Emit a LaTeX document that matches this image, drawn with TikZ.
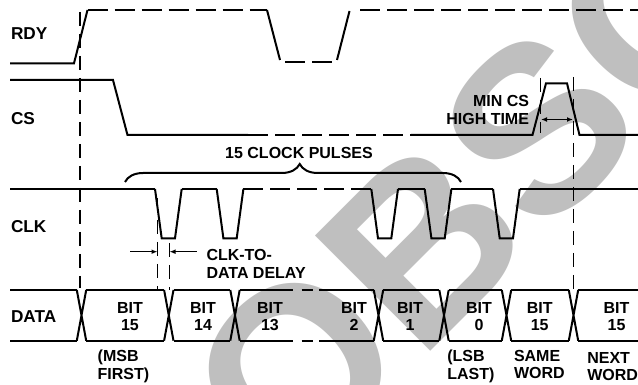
\documentclass[tikz,border=0pt]{standalone}
\usepackage{fontspec}
\setmainfont{Liberation Sans}
\usetikzlibrary{arrows.meta,decorations.pathreplacing}

\begin{document}
\begin{tikzpicture}[x=0.5pt, y=-0.5pt, line width=1pt,
    signame/.style={font=\fontsize{8.6}{10}\selectfont\bfseries, anchor=west, inner sep=0pt},
    lbl/.style={font=\fontsize{8}{8.7}\selectfont\bfseries, align=center, inner sep=0pt},
    dsh/.style={dash pattern=on 10pt off 3.5pt},
    vdsh/.style={line width=0.85pt, dash pattern=on 7pt off 4pt},
    tip/.style={-{Latex[length=3pt,width=2.4pt]}, line width=0.7pt},
    twotip/.style={{Latex[length=3pt,width=2.4pt]}-{Latex[length=3pt,width=2.4pt]}, line width=0.7pt}]
  \useasboundingbox (0,0) rectangle (638,385);
  % watermark
  \begin{scope}
    \clip (0,0) rectangle (638,385);
    \node[rotate=45, anchor=base west, inner sep=0pt, text=gray!50,
      font=\fontsize{118.5}{118.5}\selectfont\bfseries] (obs) at (288,493.5) {OBSOLETE};
  \end{scope}

  % signal names
  \node[signame] (rdy) at (10,34) {RDY};
  \node[signame] (cs) at (10,119) {CS};
  \node[signame] (clk) at (10,226.7) {CLK};
  \node[signame] (data) at (10,316.5) {DATA};

  % RDY
  \draw (10,63.3) -- (74,63.3) -- (87.5,10);
  \draw[dsh] (87.5,10) -- (267,10);
  \draw (267,10) -- (280,60);
  \draw[dsh] (285,62.5) -- (332,62.5);
  \draw (337,60) -- (349.5,11);
  \draw[dsh] (360,10) -- (638,10);

  % CS
  \draw (10,80) -- (113,80) -- (127.5,135) -- (248,135);
  \draw[dsh] (248,135) -- (411,135);
  \draw (411,135) -- (532.5,135) -- (546,83.3) -- (567,83.3) -- (579.5,135) -- (638,135);

  % CLK
  \draw (10,189) -- (155,189) (181.7,189) -- (216.7,189)
    (398,189) -- (424.7,189) (451.4,189) -- (493,189) (519.7,189) -- (638,189);
  \draw[dsh] (243.4,189) -- (371.3,189);
  \foreach \p in {155,216.7,371.3,424.7,493}
    \draw (\p,189) -- ++(6.7,49.3) -- ++(13.3,0) -- ++(6.7,-49.3);

  % DATA
  \draw (10,290) -- (76.8,290) (10,340.7) -- (76.8,340.7)
    (578.2,290) -- (638,290) (578.2,340.7) -- (638,340.7);
  \foreach \x in {81.5,168.8,235,378.5,444,506.5,573.5}
    \draw (\x-4.7,290) -- (\x+4.7,340.7) (\x-4.7,340.7) -- (\x+4.7,290);
  \foreach \a/\b in {81.5/168.8,168.8/235,378.5/444,444/506.5,506.5/573.5}
    \draw (\a+4.7,290) -- (\b-4.7,290) (\a+4.7,340.7) -- (\b-4.7,340.7);
  \foreach \y in {290,340.7}
    \draw (239.7,\y) -- (293,\y) (301.7,\y) -- (313.3,\y) (319,\y) -- (373.8,\y);
  \foreach \x/\n [count=\i] in {130/15,203/14,270/13,354/2,410/1,479/0,539.7/15,616.5/15}
    \node[lbl] (bit\i) at (\x,316.5) {BIT\\\n};
  \node[lbl, anchor=west, align=left] (msb) at (96.7,366.5) {(MSB\\FIRST)};
  \node[lbl, anchor=west, align=left] (lsb) at (446.3,366.5) {(LSB\\LAST)};
  \node[lbl, anchor=west, align=left] (same) at (513,364.5) {SAME\\WORD};
  \node[lbl, anchor=west, align=left] (next) at (586.3,366.5) {NEXT\\WORD};

  % timing marks
  \draw[vdsh] (80,12) -- (80,288);
  \draw[vdsh] (573.5,77) -- (573.5,290);
  \draw[vdsh] (540.5,78) -- (540.5,133);
  \draw[vdsh] (157.5,198) -- (157.5,290);
  \draw[vdsh] (169.5,243) -- (169.5,290);

  % clock pulse brace
  \coordinate (brl) at (125,182);
  \coordinate (brr) at (461,182);
  \draw[decorate, decoration={brace, amplitude=9pt, aspect=0.52}] (brl) -- (brr);
  \node[lbl] (pulses) at (299,153) {15 CLOCK PULSES};

  % clock to data delay
  \coordinate (dla) at (130,251.7);
  \coordinate (dlb) at (157.5,251.7);
  \coordinate (dlc) at (196.7,251.7);
  \coordinate (dld) at (169.5,251.7);
  \draw[tip] (dla) -- (dlb);
  \draw[tip] (dlc) -- (dld);
  \node[lbl, anchor=west, align=left, font=\fontsize{8}{9.3}\selectfont\bfseries] (delay) at (205.5,264) {CLK-TO-\\DATA DELAY};

  % min cs high time
  \coordinate (csa) at (541,119.5);
  \coordinate (csb) at (573,119.5);
  \draw[twotip] (csa) -- (csb);
  \node[lbl, anchor=east, align=right] (mincs) at (530,110) {MIN CS\\HIGH TIME};
\end{tikzpicture}
\end{document}
